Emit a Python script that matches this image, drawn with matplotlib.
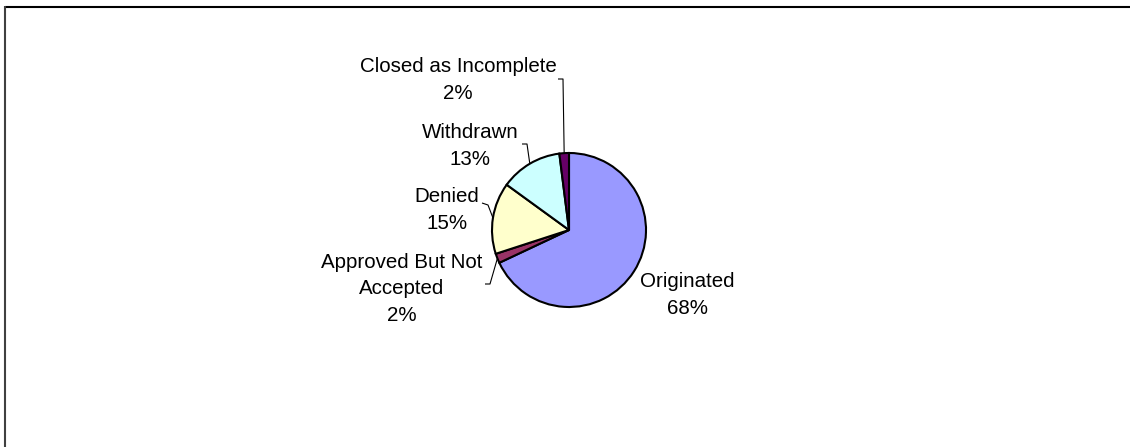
import matplotlib
matplotlib.use("Agg")
import matplotlib.pyplot as plt
import numpy as np

# Loan application outcomes
categories = ["Originated", "Approved But Not Accepted", "Denied",
              "Withdrawn", "Closed as Incomplete"]
shares = [68, 2, 15, 13, 2]
colors = ["#9999FF", "#993366", "#FFFFCC", "#CCFFFF", "#660066"]
label_names = ["Originated", "Approved But Not\nAccepted", "Denied",
               "Withdrawn", "Closed as Incomplete"]

W, H = 1130, 447
plt.rcParams["font.family"] = ["Liberation Sans", "DejaVu Sans"]

fig = plt.figure(figsize=(W / 100, H / 100), dpi=100)
ax = fig.add_axes([0, 0, 1, 1])


def py(y):
    """Convert a top-down pixel row into the axes' bottom-up coordinate."""
    return H - y


cx, cy, r = 569, py(230), 77
wedges, _ = ax.pie(shares, colors=colors, startangle=90, counterclock=False,
                   center=(cx, cy), radius=r, frame=True,
                   wedgeprops=dict(edgecolor="black", linewidth=1.5))

ax.set_xlim(0, W)
ax.set_ylim(0, H)
ax.set_aspect("equal")
ax.axis("off")

# label centres and leader-line elbows (None = no leader line)
label_pos = [(687, 295), (402, 289), (447, 210), (470, 146), (458, 80)]
elbows = [None,
          [(485, 284), (490, 284)],
          [(482, 203), (488, 205)],
          [(522, 144), (527, 144)],
          [(558, 79), (563, 79)]]

total = float(sum(shares))
for w, name, v, (lx, ly), elb in zip(wedges, label_names, shares,
                                     label_pos, elbows):
    ax.text(lx, py(ly), f"{name}\n{v}%", ha="center", va="center",
            multialignment="center", fontsize=14.8, linespacing=1.5,
            color="black")
    if elb is not None:
        mid = np.deg2rad((w.theta1 + w.theta2) / 2)
        ex, ey = cx + r * np.cos(mid), cy + r * np.sin(mid)
        xs = [p[0] for p in elb] + [ex]
        ys = [py(p[1]) for p in elb] + [ey]
        ax.plot(xs, ys, color="black", linewidth=0.8, solid_capstyle="butt")

# chart area frame (top and left edges)
ax.plot([5, W], [py(7), py(7)], color="black", linewidth=1.5,
        solid_capstyle="butt")
ax.plot([5, 5], [py(6), 0], color="#404040", linewidth=1.5,
        solid_capstyle="butt")

fig.savefig("out.png", dpi=100)
